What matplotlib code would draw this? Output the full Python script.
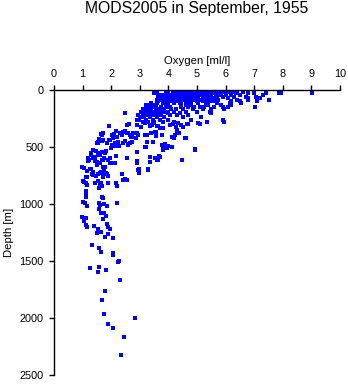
import numpy as np
import matplotlib.pyplot as plt

plt.rcParams['font.family'] = ['Liberation Sans', 'DejaVu Sans']

# oxygen [ml/l] and depth [m] of the casts, grouped by depth band
ox_surface = [4.2, 4.3, 4.4, 4.5, 4.6, 4.7, 4.8, 4.9, 5.0, 5.1, 5.2, 5.3, 5.4, 5.5, 5.6, 5.7, 5.8, 5.9, 6.0, 6.2, 6.4,
              4.15, 4.3, 4.4, 4.5, 4.6, 4.7, 4.8, 4.9, 5.0, 5.1, 5.2, 5.3, 5.4, 5.5, 5.6, 5.7, 5.8, 5.9, 6.1, 6.3, 6.6,
              3.5, 3.6, 3.9, 4.0, 4.2, 4.35, 4.5, 4.6, 4.7, 4.85, 5.0, 5.1, 5.2, 5.3, 5.45, 5.6, 5.7, 5.85, 6.0, 6.35,
              6.8, 7.0, 7.4, 7.85, 7.95, 9.03,
              3.7, 3.85, 4.0, 4.1, 4.2, 4.3, 4.45, 4.55, 4.7, 4.8, 4.95, 5.05, 5.15, 5.3, 5.4, 5.5, 5.65, 5.8, 6.0, 6.2,
              6.5, 7.3,
              3.65, 3.8, 3.95, 4.1, 4.25, 4.4, 4.5, 4.65, 4.75, 4.9, 5.0, 5.2, 5.35, 5.5, 5.7, 5.9, 6.3, 6.7, 7.05,
              3.7, 3.9, 4.0, 4.15, 4.3, 4.45, 4.6, 4.8, 4.9, 5.05, 5.25, 5.4, 5.55, 6.1, 6.8, 7.2,
              3.6, 3.75, 3.85, 4.05, 4.2, 4.35, 4.55, 4.7, 4.85, 5.0, 5.15, 5.3, 5.45, 5.75, 6.4, 6.8, 7.5,
              3.65, 3.8, 3.95, 4.1, 4.25, 4.45, 4.6, 4.8, 5.0, 5.2, 5.45, 5.6, 6.2, 6.5, 7.1,
              3.4, 3.6, 3.8, 4.0, 4.2, 4.4, 4.7, 5.05, 5.3, 5.7, 6.15, 6.55,
              3.2, 3.35, 3.5, 3.9, 4.45, 4.6, 4.8, 5.4, 5.85, 6.2]
dep_surface = [5] * 21 + [18] * 21 + [30] * 26 + [45] * 22 + [58] * 19 + [72] * 16 + [85] * 17 + [100] * 15 \
    + [115] * 12 + [130] * 10

ox_upper = [3.2, 3.3, 3.45, 3.55, 3.75, 3.9, 4.05, 4.45, 4.7, 4.9, 5.1, 5.25, 5.6, 5.9, 6.1, 7.04,
            3.1, 3.25, 3.4, 3.55, 3.7, 3.85, 4.1, 4.25, 4.5, 4.85, 5.2, 5.5, 5.95,
            3.05, 3.2, 3.35, 3.5, 3.8, 3.95, 4.2, 4.6, 5.0, 5.45,
            2.48, 3.12, 3.24, 3.4, 3.6, 3.75, 4.0, 4.4, 5.5,
            2.95, 3.1, 3.3, 3.47, 3.7, 4.05, 4.3, 4.7,
            3.0, 3.15, 3.35, 3.6, 3.85, 4.5, 5.15,
            2.89, 2.98, 3.2, 3.45, 3.7, 4.0, 4.8, 5.9,
            3.12, 3.3, 3.5, 3.8, 4.2, 5.34, 5.94,
            1.93, 2.54, 2.63, 2.91, 3.03, 3.18, 3.36, 3.42, 3.59, 3.71, 4.06, 4.17, 4.27, 4.35, 4.43, 4.52,
            4.64, 4.70, 5.05, 5.10, 3.47, 3.65, 3.82,
            1.67, 1.72, 2.02, 2.10, 2.16, 2.19, 2.31, 2.37, 2.42, 2.48, 2.54, 2.58, 2.66, 2.72, 2.77, 2.91,
            2.87, 2.95, 3.18, 3.24, 3.39, 3.53, 3.57, 3.55, 3.77, 4.12, 4.23, 4.29, 4.31, 4.38, 4.58, 4.62,
            4.20, 1.64, 1.58, 2.07, 2.69]
dep_upper = [150] * 16 + [170] * 13 + [190] * 10 + [205] * 9 + [222] * 8 + [240] * 7 + [260] * 8 + [278] * 7 \
    + [313, 307, 298, 304, 322, 292, 316, 307, 316, 336, 307, 298, 322, 292, 307, 322,
       298, 298, 292, 301, 286, 316, 336,
       395, 380, 395, 386, 357, 409, 374, 395, 366, 362, 380, 377, 395, 409, 380, 377,
       421, 395, 395, 395, 380, 366, 403, 371, 395, 409, 395, 374, 350, 374, 424, 424,
       424, 386, 427, 421, 415]

ox_middle = [1.69, 1.53, 1.96, 1.49, 1.55, 1.72, 1.84, 1.93, 2.02, 2.13, 1.98, 2.19, 2.25, 2.42, 2.60, 2.66,
             2.72, 2.60, 2.48, 2.07, 2.28, 3.18, 3.24, 3.47, 3.77, 3.88, 3.82, 4.0, 4.12, 3.2, 3.94, 4.93,
             1.37, 1.47,
             1.53, 1.31, 1.29, 1.37, 1.43, 1.55, 1.67, 1.78, 1.61, 1.67, 1.75, 1.49, 1.61, 1.72, 1.90, 1.96,
             2.13, 2.07, 1.96, 2.17, 1.82, 1.20, 1.24, 1.20, 1.43, 1.49, 1.70, 1.76, 1.78, 0.97, 1.06, 1.26,
             1.28, 2.54, 2.56, 2.89, 2.89, 2.89, 2.95, 2.98, 3.30, 3.71, 3.59, 3.53, 3.65, 3.82, 3.36, 4.46,
             4.94, 3.36, 3.68,
             1.14, 1.34, 1.37, 1.61, 1.84, 1.12, 1.37, 1.47, 1.64, 1.70, 1.90, 2.37, 2.48, 2.54, 1.55, 1.67,
             1.72, 1.82, 1.88, 2.98, 2.96, 3.30, 1.03, 1.12, 1.14, 1.43, 1.55, 1.64, 1.61, 1.58, 1.67, 1.88,
             2.21, 2.17, 2.42, 1.12, 1.12, 1.12, 1.67, 1.72, 1.03, 1.08, 1.17, 1.58, 1.61, 1.76, 1.84, 2.19,
             1.58, 1.64, 1.76, 1.82, 1.72, 0.99, 1.12, 1.05, 1.14]
dep_middle = [450, 465, 436, 468, 453, 438, 468, 438, 482, 462, 511, 491, 453, 468, 482, 462,
              456, 474, 445, 494, 494, 497, 453, 453, 482, 474, 511, 491, 497, 497, 511, 520,
              523, 532,
              553, 555, 573, 596, 585, 570, 541, 555, 567, 611, 596, 629, 643, 614, 614, 643,
              643, 640, 596, 576, 538, 625, 611, 599, 625, 655, 678, 699, 672, 678, 684, 696,
              690, 599, 596, 637, 541, 625, 699, 696, 696, 585, 614, 599, 614, 526, 629, 614,
              526, 585, 579,
              713, 734, 716, 725, 737, 763, 748, 757, 719, 763, 757, 737, 783, 789, 737, 728,
              755, 728, 755, 707, 731, 702, 798, 813, 830, 813, 795, 813, 836, 862, 842, 818,
              842, 818, 789, 883, 906, 941, 936, 950, 985, 994, 1017, 994, 1009, 1002, 1015, 987,
              1046, 1076, 1082, 1105, 1134, 1111, 1120, 804, 760]

ox_deep = [1.06, 1.12, 1.14, 1.41, 1.55, 1.64, 1.51, 1.84, 1.90, 1.96, 1.88, 1.78, 2.05, 1.34, 1.57, 1.64,
           2.07, 2.07, 2.27, 2.25, 1.27, 1.58, 1.53, 1.83, 2.32, 1.79, 1.69, 1.76, 2.84, 1.90, 2.05, 2.46,
           2.35]
dep_deep = [1146, 1185, 1199, 1196, 1222, 1243, 1257, 1178, 1199, 1219, 1266, 1287, 1301, 1359, 1389, 1418,
            1433, 1447, 1497, 1511, 1558, 1555, 1599, 1582, 1669, 1760, 1845, 1967, 2003, 2052, 2090, 2169,
            2327]

oxygen = np.concatenate([ox_surface, ox_upper, ox_middle, ox_deep])
depth = np.concatenate([dep_surface, dep_upper, dep_middle, dep_deep])

fig = plt.figure(figsize=(3.48, 3.84), dpi=100)
ax = fig.add_axes([54 / 348, 9 / 384, 286 / 348, 285 / 384])

ax.plot(oxygen, depth, linestyle='none', marker='s', markersize=2.2,
        markeredgewidth=0, color='#0000ff')

ax.set_xlim(0, 10)
ax.set_ylim(2500, 0)
ax.set_xticks(range(0, 11))
ax.set_yticks(range(0, 2501, 500))

ax.xaxis.tick_top()
ax.xaxis.set_label_position('top')
ax.spines['right'].set_visible(False)
ax.spines['bottom'].set_visible(False)
for side in ('left', 'top'):
    ax.spines[side].set_linewidth(1.0)
ax.tick_params(length=3.6, width=1.0, labelsize=7.8, pad=4, direction='out')

ax.set_xlabel('Oxygen [ml/l]', fontsize=8.2, labelpad=4)
ax.set_ylabel('Depth [m]', fontsize=8.2, labelpad=4)

fig.text(197 / 348, 1 - 8.5 / 384, 'MODS2005 in September, 1955', ha='center', va='center', fontsize=11.3)

fig.savefig('out.png', dpi=100)
